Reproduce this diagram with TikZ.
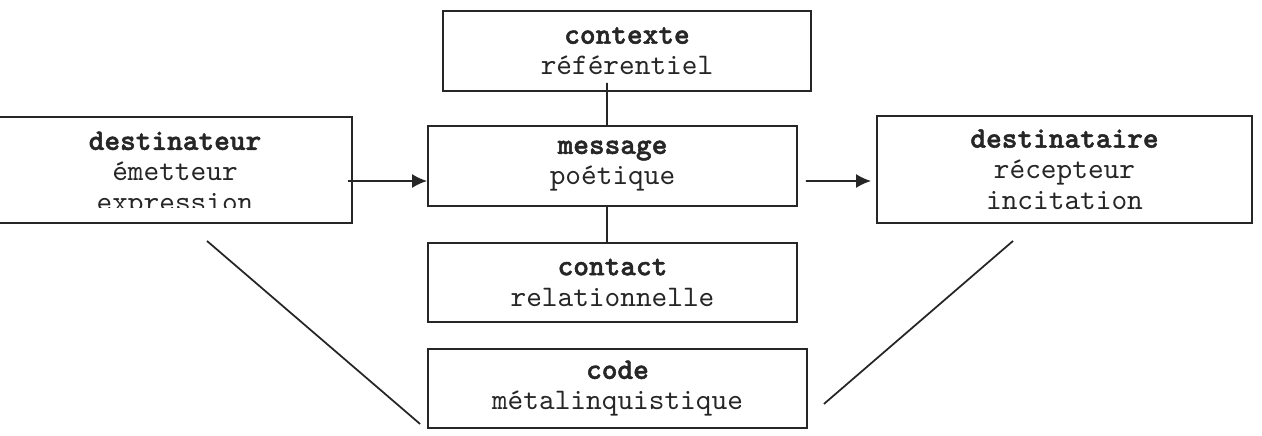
\documentclass[tikz,border=0pt]{standalone}
\usepackage{fontspec}
\setmonofont{lmmono10-regular.otf}[BoldFont=lmmonolt10-bold.otf,
    BoldFeatures={FakeBold=1.6}]
\usetikzlibrary{arrows.meta}

\begin{document}
\begin{tikzpicture}[x=0.02cm, y=-0.02cm,
    texte/.style={align=center, inner sep=0pt, text=black!85,
        font=\ttfamily\fontsize{17}{17.6}\selectfont},
    fonction/.style={texte, draw=black!85, line width=1.1pt},
    lien/.style={draw=black!85, line width=1pt},
    fleche/.style={lien, -{Latex[length=0.3cm, width=0.28cm]}}]
    \useasboundingbox (0, 0) rectangle (1262, 436);

    \node (contexte) [fonction, minimum width=7.36cm, minimum height=1.6cm]
	at (627, 51) {\textbf{contexte}\\référentiel};
    \node (message) [fonction, minimum width=7.38cm, minimum height=1.6cm]
	at (612.5, 166) {\textbf{message}\\poétique};
    \node (contact) [fonction, minimum width=7.38cm, minimum height=1.58cm]
	at (612.5, 282.5) {\textbf{contact}\\relationnelle};
    \node (code) [fonction, minimum width=7.58cm, minimum height=1.58cm]
	at (617.5, 388.5) {\textbf{code}\\métalinquistique};
    \node (destinataire) [fonction, minimum width=7.5cm, minimum height=2.14cm]
	at (1064.5, 169.5) {\textbf{destinataire}\\récepteur\\incitation};

    % la derniere ligne est coupee par le cadre
    \node (destinateur) [fonction, minimum width=7.08cm, minimum height=2.12cm,
	path picture={
	    \clip (path picture bounding box.north west)
		rectangle ([yshift=0.3cm]path picture bounding box.south east);
	    \node [texte] at ([yshift=-0.1cm]path picture bounding box.center)
		{\textbf{destinateur}\\émetteur\\expression};
	}] at (175, 170) {};

    \draw [fleche] ([shift={(-5, 11)}]destinateur.east)
	-- ([shift={(0, 15)}]message.west);
    \draw [fleche] ([shift={(8, 15)}]message.east)
	-- ([shift={(-5, 11.5)}]destinataire.west);

    \draw [lien] ([xshift=-0.11cm]message.north)
	-- ([shift={(-5.5, -9)}]message.north |- contexte.south);
    \draw [lien] ([xshift=-0.11cm]message.south)
	-- ([xshift=-0.11cm]message.south |- contact.north);

    \draw [lien] ([shift={(32, 17)}]destinateur.south)
	-- ([shift={(-7, -5)}]code.south west);
    \draw [lien] ([shift={(-51.5, 17)}]destinataire.south)
	-- ([shift={(16, -25)}]code.south east);
\end{tikzpicture}
\end{document}
